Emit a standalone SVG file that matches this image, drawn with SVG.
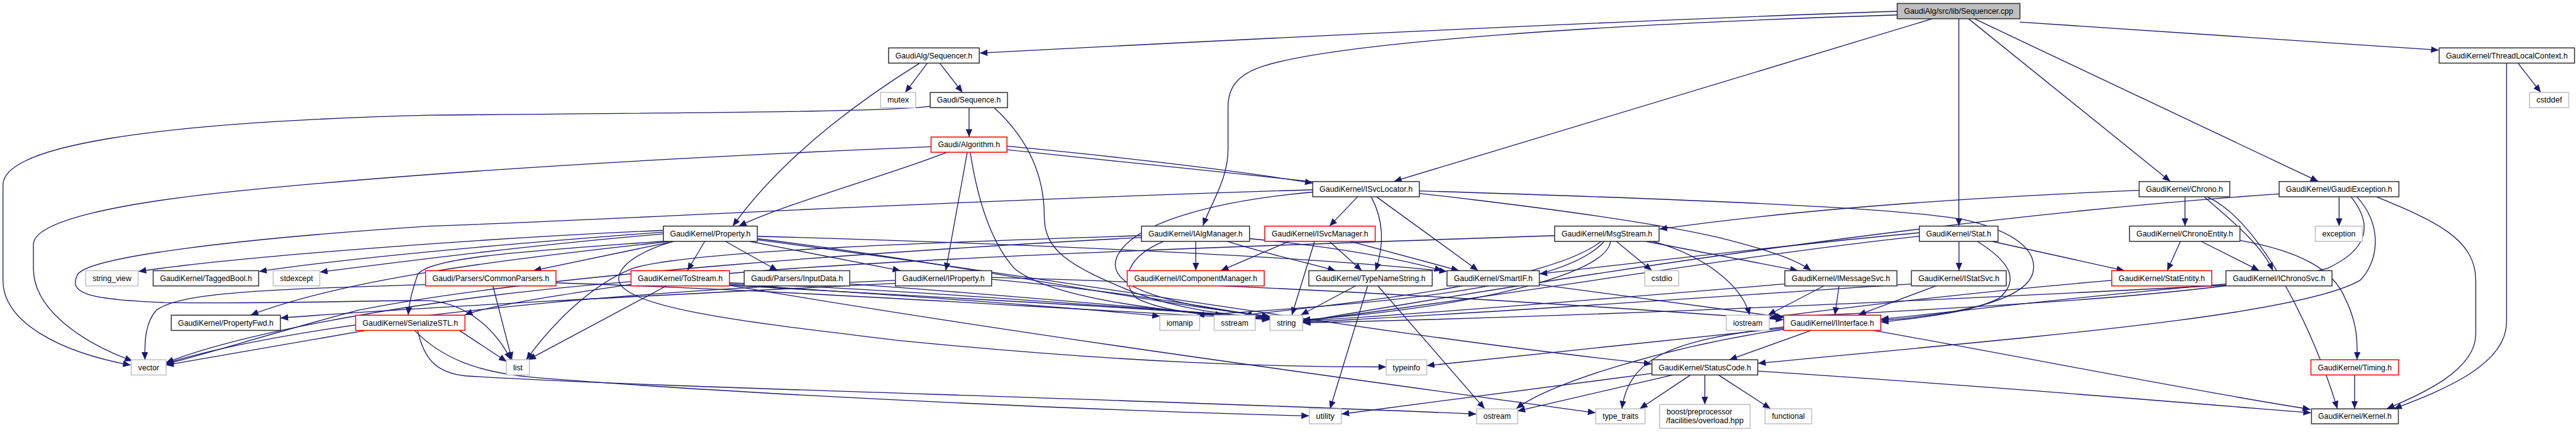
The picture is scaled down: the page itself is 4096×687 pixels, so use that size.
<svg xmlns="http://www.w3.org/2000/svg" width="4096" height="687" viewBox="0 0 4096 687">
<style>
.e path{fill:none;stroke:#191970;stroke-width:1.4;marker-end:url(#a)}
.n rect{fill:#fff;stroke:#333;stroke-width:1.6}
.g rect{fill:#fff;stroke:#bfbfbf;stroke-width:1.6}
.r rect{fill:#fff;stroke:#ff0000;stroke-width:1.6}
.root rect{fill:#bfbfbf;stroke:#333;stroke-width:1.6}
text{font-family:"Liberation Sans",Arial,Helvetica,sans-serif;font-size:14px;fill:#000;text-anchor:middle}
</style>
<defs>
<marker id="a" markerUnits="userSpaceOnUse" markerWidth="14" markerHeight="11" refX="13" refY="5.5" orient="auto"><path d="M0,0 L13,5.5 L0,11 z" fill="#191970"/></marker>
</defs>
<rect x="0" y="0" width="4096" height="687" fill="#fff"/>
<g transform="scale(0.948807)">
<g id="edges" class="e">
<path d="M3179,19 C2700,35 2000,70 1642,89"/>
<path d="M3179,25 C2700,40 2250,70 2120,110 C2070,125 2058,150 2058,180 L2058,250 C2058,300 2030,340 2016,378"/>
<path d="M3238,31.5 L2336,304"/>
<path d="M3282.7,31.5 L3282.7,379"/>
<path d="M3299,31.5 L3637,304"/>
<path d="M3309,31.5 L3885,304"/>
<path d="M3385,37 L4087,84"/>
<path d="M1554,106 L1517,155"/>
<path d="M1575,106 L1613,155"/>
<path d="M1541,106 C1470,150 1320,250 1228,379"/>
<path d="M1624,180.5 L1624,229.5"/>
<path d="M1559,178 C1500,187 1200,189 720,193 C250,205 5,245 5,310 L5,470 C5,540 100,590 219,612"/>
<path d="M1666,180.5 C1720,230 1750,290 1750,362 C1750,420 1790,445 1900,490 C1980,520 2060,528 2128,533"/>
<path d="M1587,255.3 C1500,290 1320,340 1238,379"/>
<path d="M1560,246 C1100,265 700,290 400,320 C200,340 56,370 56,410 L56,450 C56,520 140,575 222,605"/>
<path d="M1621,255.3 L1585,453.5"/>
<path d="M1626,255.3 C1636,320 1655,400 1700,450 C1760,500 1950,522 2128,536"/>
<path d="M1687.5,245 C1900,265 2100,290 2200,307"/>
<path d="M1687.5,251 C2100,295 2650,345 2880,398 C2960,418 3010,435 3035,453.5"/>
<path d="M4220,106 L4258,155"/>
<path d="M4200.6,106 L4200.6,540 C4200.6,610 4100,652 4012,685"/>
<path d="M3661.7,330 L3661.7,379"/>
<path d="M3694,330 C3740,370 3790,410 3809,453.5"/>
<path d="M3699,330 C3790,370 3880,560 3917,685"/>
<path d="M3585,319 C3200,335 2950,360 2781,384"/>
<path d="M3920,330 L3920,379"/>
<path d="M3983,330 C4080,370 4149,400 4149,470 L4149,560 C4149,620 4060,660 4000,685"/>
<path d="M3950,330 C3995,380 3985,440 3955,470 C3850,530 3400,565 2946,609"/>
<path d="M3940,330 C3980,380 3965,420 3900,450 C3700,500 3200,520 2966,533"/>
<path d="M3819.5,325 C3300,360 2700,450 2183,539"/>
<path d="M2275,330 L2228,379"/>
<path d="M2298,330 C2314,360 2324,400 2305,453.5"/>
<path d="M2307,330 L2477,453.5"/>
<path d="M2378.6,320 C2800,333 3200,348 3300,370 C3380,390 3410,420 3408,450 C3405,500 3300,525 3152,537"/>
<path d="M2200,318 C1500,340 1000,370 720,379 C400,400 150,430 130,460 C115,490 140,502 275,507 C500,510 650,502 720,504 C790,510 835,560 856,603"/>
<path d="M2200,322 C2050,335 1900,370 1872,430 C1850,480 1950,510 2128,531"/>
<path d="M1112,386 C800,400 400,430 232,455"/>
<path d="M1112,389 C900,405 600,430 434,455"/>
<path d="M1112,392 C900,410 700,435 536,456"/>
<path d="M1129,404.7 L894,453.5"/>
<path d="M1181,404.7 L1152,453.5"/>
<path d="M1216,404.7 L1303,453.5"/>
<path d="M1257,404.7 L1509,453.5"/>
<path d="M1120,404.7 C900,430 600,460 420,528"/>
<path d="M1115,404 C900,420 720,430 700,460 C690,490 686,505 684,528"/>
<path d="M1128,404.7 C1060,425 1035,450 1037,470 C1045,520 1300,545 1500,570 C1900,610 2150,615 2323,615"/>
<path d="M1269,396 C1700,408 2200,430 2425,455"/>
<path d="M1269,400 C1600,440 1900,505 2128,530"/>
<path d="M1269,402 C1800,470 2300,560 2768,610"/>
<path d="M2004,404.7 L2004,453.5"/>
<path d="M2057,404.7 C2120,425 2190,440 2238,453.5"/>
<path d="M2094,400 C2250,415 2350,435 2417,453.5"/>
<path d="M1913,395 C1600,405 1150,420 1060,450 C985,480 920,550 882,603"/>
<path d="M1950,404.7 C1890,430 1875,470 1905,500 C1960,528 2060,530 2128,534"/>
<path d="M1913,398 C1500,420 900,460 600,520 C450,560 330,598 278,610"/>
<path d="M2160,404.7 L2046,453.5"/>
<path d="M2228,404.7 L2282,453.5"/>
<path d="M2263,404.7 L2445,453.5"/>
<path d="M2203,404.7 L2165,528"/>
<path d="M2272,479 L2180,528"/>
<path d="M2292,479 L2229,685"/>
<path d="M2309,479 L2488,685"/>
<path d="M2580,477 C2750,500 2900,520 2990,532"/>
<path d="M2709,404.7 L2768,453.5"/>
<path d="M2683,404.7 C2600,470 2300,505 2085,528"/>
<path d="M2688,404.7 C2620,485 2300,510 2005,528"/>
<path d="M2699,404.7 C2690,470 2400,522 2183,536"/>
<path d="M2759,404.7 L3013,453.5"/>
<path d="M2770,404.7 C2860,430 2920,480 2932,528"/>
<path d="M2605,395 C2000,415 1300,440 1069,475 C900,500 810,515 779,528"/>
<path d="M3283,404.7 L3283,453.5"/>
<path d="M3339,404.7 L3560,453.5"/>
<path d="M3216.6,390 C3000,410 2750,440 2580,459"/>
<path d="M3216.6,396 C2900,430 2500,500 2183,538"/>
<path d="M3314,404.7 C3370,440 3385,470 3350,500 C3300,525 3220,532 3152,540"/>
<path d="M3057,479 L2963,528"/>
<path d="M3082,479 L3075,528"/>
<path d="M2991,476 C2700,500 2400,525 2183,538"/>
<path d="M3245,479 L3114,528"/>
<path d="M3203,476 C2900,495 2500,525 2183,540"/>
<path d="M3654,404.7 L3632,453.5"/>
<path d="M3689,404.7 L3786,453.5"/>
<path d="M3754,403 C3850,420 3910,450 3930,500 C3950,540 3951,570 3950,603"/>
<path d="M3539,470 C3300,490 3100,515 2966,532"/>
<path d="M3730,476 C3500,495 3300,520 3152,535"/>
<path d="M3730,478 C3300,500 2700,530 2183,541"/>
<path d="M3946,628.5 L3946,685"/>
<path d="M3034,554.3 L2898,603"/>
<path d="M3142,554.3 C3400,600 3700,660 3872,686"/>
<path d="M2989,552 C2800,580 2600,640 2541,685"/>
<path d="M2989,550 C2700,580 2450,605 2391,613"/>
<path d="M2989,548 C2800,570 2730,600 2718,685"/>
<path d="M2768,626 L2248,694"/>
<path d="M2803,628.5 L2543,689"/>
<path d="M2833,628.5 L2748,685"/>
<path d="M2857,628.5 L2857,678"/>
<path d="M2880,628.5 L2967,685"/>
<path d="M2945.7,622 C3300,645 3600,670 3873,692"/>
<path d="M826,479 L858,603"/>
<path d="M713,477 C450,485 300,490 262,520 C244,540 242,570 243,603"/>
<path d="M932,474 C1400,490 1800,520 2128,535"/>
<path d="M1117,479 L885,603"/>
<path d="M1057,472 C700,500 400,560 278,608"/>
<path d="M1222,476 C1500,495 1800,515 1944,530"/>
<path d="M1222,478 C1600,500 1900,515 2050,528"/>
<path d="M1222,474 C1600,490 1900,518 2128,532"/>
<path d="M1222,478 C1700,560 2300,640 2674,692"/>
<path d="M1424,476 C1700,495 1950,520 2128,533"/>
<path d="M612,554 L278,612"/>
<path d="M770,554 L849,606"/>
<path d="M700,554 C710,600 730,625 780,630 C1100,650 1800,665 2474,694"/>
<path d="M695,554 C740,600 800,625 900,633 C1300,665 1900,690 2194,697"/>
<path d="M1500,470 C1000,490 500,540 278,609"/>
<path d="M1662,468 C1900,490 2050,520 2128,532"/>
<path d="M1662,465 C2200,480 2700,515 2989,536"/>
<path d="M1500,475 C1100,495 700,515 470,533"/>
</g>
<g id="n_root" class="root"><rect x="3179.4" y="5.8" width="205.7" height="25.6"/><text x="3282.3" y="23.1" textLength="183" lengthAdjust="spacingAndGlyphs">GaudiAlg/src/lib/Sequencer.cpp</text></g>
<g id="n_seqh" class="n"><rect x="1489.1" y="80.3" width="152" height="25.5"/><text x="1565.1" y="97.6" textLength="129" lengthAdjust="spacingAndGlyphs">GaudiAlg/Sequencer.h</text></g>
<g id="n_mutex" class="g"><rect x="1475.8" y="155" width="58.8" height="25.5"/><text x="1505.2" y="172.3" textLength="36" lengthAdjust="spacingAndGlyphs">mutex</text></g>
<g id="n_sequence" class="n"><rect x="1558.9" y="155" width="129.5" height="25.5"/><text x="1623.6" y="172.3" textLength="107" lengthAdjust="spacingAndGlyphs">Gaudi/Sequence.h</text></g>
<g id="n_algorithm" class="r"><rect x="1560.3" y="229.7" width="127.2" height="25.5"/><text x="1623.9" y="247" textLength="104" lengthAdjust="spacingAndGlyphs">Gaudi/Algorithm.h</text></g>
<g id="n_tlc" class="n"><rect x="4087.7" y="80.3" width="226.8" height="25.5"/><text x="4201.1" y="97.6" textLength="204" lengthAdjust="spacingAndGlyphs">GaudiKernel/ThreadLocalContext.h</text></g>
<g id="n_cstddef" class="g"><rect x="4239.2" y="155" width="65.7" height="25.5"/><text x="4272" y="172.3" textLength="43" lengthAdjust="spacingAndGlyphs">cstddef</text></g>
<g id="n_chrono" class="n"><rect x="3584.9" y="304.3" width="151.9" height="25.5"/><text x="3660.8" y="321.6" textLength="129" lengthAdjust="spacingAndGlyphs">GaudiKernel/Chrono.h</text></g>
<g id="n_gexc" class="n"><rect x="3819.5" y="304.3" width="200.7" height="25.5"/><text x="3919.9" y="321.6" textLength="178" lengthAdjust="spacingAndGlyphs">GaudiKernel/GaudiException.h</text></g>
<g id="n_isvcloc" class="n"><rect x="2200" y="304.3" width="178.6" height="25.5"/><text x="2289.3" y="321.6" textLength="156" lengthAdjust="spacingAndGlyphs">GaudiKernel/ISvcLocator.h</text></g>
<g id="n_property" class="n"><rect x="1111.7" y="379" width="157.5" height="25.5"/><text x="1190.4" y="396.3" textLength="135" lengthAdjust="spacingAndGlyphs">GaudiKernel/Property.h</text></g>
<g id="n_ialgmgr" class="n"><rect x="1913" y="379" width="181" height="25.5"/><text x="2003.5" y="396.3" textLength="158" lengthAdjust="spacingAndGlyphs">GaudiKernel/IAlgManager.h</text></g>
<g id="n_isvcmgr" class="r"><rect x="2119.6" y="379" width="185" height="25.5"/><text x="2212.1" y="396.3" textLength="162" lengthAdjust="spacingAndGlyphs">GaudiKernel/ISvcManager.h</text></g>
<g id="n_msgstream" class="n"><rect x="2605.4" y="379" width="175" height="25.5"/><text x="2692.9" y="396.3" textLength="152" lengthAdjust="spacingAndGlyphs">GaudiKernel/MsgStream.h</text></g>
<g id="n_stat" class="n"><rect x="3216.6" y="379" width="131.8" height="25.5"/><text x="3282.5" y="396.3" textLength="109" lengthAdjust="spacingAndGlyphs">GaudiKernel/Stat.h</text></g>
<g id="n_chronoentity" class="n"><rect x="3568.8" y="379" width="185" height="25.5"/><text x="3661.3" y="396.3" textLength="162" lengthAdjust="spacingAndGlyphs">GaudiKernel/ChronoEntity.h</text></g>
<g id="n_exception" class="g"><rect x="3880.1" y="379" width="79" height="25.5"/><text x="3919.6" y="396.3" textLength="56" lengthAdjust="spacingAndGlyphs">exception</text></g>
<g id="n_string_view" class="g"><rect x="143.7" y="453.7" width="87.7" height="25.5"/><text x="187.6" y="471" textLength="65" lengthAdjust="spacingAndGlyphs">string_view</text></g>
<g id="n_taggedbool" class="n"><rect x="256.7" y="453.7" width="176.8" height="25.5"/><text x="345.1" y="471" textLength="154" lengthAdjust="spacingAndGlyphs">GaudiKernel/TaggedBool.h</text></g>
<g id="n_stdexcept" class="g"><rect x="457.8" y="453.7" width="78.1" height="25.5"/><text x="496.9" y="471" textLength="55" lengthAdjust="spacingAndGlyphs">stdexcept</text></g>
<g id="n_commonparsers" class="r"><rect x="713.2" y="453.7" width="218.5" height="25.5"/><text x="822.5" y="471" textLength="196" lengthAdjust="spacingAndGlyphs">Gaudi/Parsers/CommonParsers.h</text></g>
<g id="n_tostream" class="r"><rect x="1057.5" y="453.7" width="164.9" height="25.5"/><text x="1140" y="471" textLength="142" lengthAdjust="spacingAndGlyphs">GaudiKernel/ToStream.h</text></g>
<g id="n_inputdata" class="n"><rect x="1247.2" y="453.7" width="176.8" height="25.5"/><text x="1335.6" y="471" textLength="154" lengthAdjust="spacingAndGlyphs">Gaudi/Parsers/InputData.h</text></g>
<g id="n_iproperty" class="n"><rect x="1500.6" y="453.7" width="161.2" height="25.5"/><text x="1581.2" y="471" textLength="138" lengthAdjust="spacingAndGlyphs">GaudiKernel/IProperty.h</text></g>
<g id="n_icompmgr" class="r"><rect x="1889.1" y="453.7" width="229.6" height="25.5"/><text x="2003.9" y="471" textLength="206" lengthAdjust="spacingAndGlyphs">GaudiKernel/IComponentManager.h</text></g>
<g id="n_typenamestring" class="n"><rect x="2193.5" y="453.7" width="206.7" height="25.5"/><text x="2296.9" y="471" textLength="184" lengthAdjust="spacingAndGlyphs">GaudiKernel/TypeNameString.h</text></g>
<g id="n_smartif" class="n"><rect x="2425" y="453.7" width="154.7" height="25.5"/><text x="2502.4" y="471" textLength="132" lengthAdjust="spacingAndGlyphs">GaudiKernel/SmartIF.h</text></g>
<g id="n_cstdio" class="g"><rect x="2756.5" y="453.7" width="56.9" height="25.5"/><text x="2785" y="471" textLength="35" lengthAdjust="spacingAndGlyphs">cstdio</text></g>
<g id="n_imessagesvc" class="n"><rect x="2991.1" y="453.7" width="187.9" height="25.5"/><text x="3085" y="471" textLength="165" lengthAdjust="spacingAndGlyphs">GaudiKernel/IMessageSvc.h</text></g>
<g id="n_istatsvc" class="n"><rect x="3203.3" y="453.7" width="158.9" height="25.5"/><text x="3282.8" y="471" textLength="136" lengthAdjust="spacingAndGlyphs">GaudiKernel/IStatSvc.h</text></g>
<g id="n_statentity" class="r"><rect x="3539" y="453.7" width="167.5" height="25.5"/><text x="3622.8" y="471" textLength="145" lengthAdjust="spacingAndGlyphs">GaudiKernel/StatEntity.h</text></g>
<g id="n_ichronosvc" class="n"><rect x="3730.4" y="453.7" width="177.7" height="25.5"/><text x="3819.3" y="471" textLength="155" lengthAdjust="spacingAndGlyphs">GaudiKernel/IChronoSvc.h</text></g>
<g id="n_propertyfwd" class="n"><rect x="287" y="528.3" width="182.8" height="25.5"/><text x="378.4" y="545.6" textLength="160" lengthAdjust="spacingAndGlyphs">GaudiKernel/PropertyFwd.h</text></g>
<g id="n_serializestl" class="r"><rect x="596" y="528.3" width="183.2" height="25.5"/><text x="687.6" y="545.6" textLength="160" lengthAdjust="spacingAndGlyphs">GaudiKernel/SerializeSTL.h</text></g>
<g id="n_iomanip" class="g"><rect x="1943.7" y="528.3" width="66.6" height="25.5"/><text x="1977" y="545.6" textLength="44" lengthAdjust="spacingAndGlyphs">iomanip</text></g>
<g id="n_sstream" class="g"><rect x="2034.7" y="528.3" width="68.8" height="25.5"/><text x="2069.1" y="545.6" textLength="46" lengthAdjust="spacingAndGlyphs">sstream</text></g>
<g id="n_string" class="g"><rect x="2128.3" y="528.3" width="54.7" height="25.5"/><text x="2155.7" y="545.6" textLength="32" lengthAdjust="spacingAndGlyphs">string</text></g>
<g id="n_iostream" class="g"><rect x="2892.9" y="528.3" width="72.1" height="25.5"/><text x="2929" y="545.6" textLength="49" lengthAdjust="spacingAndGlyphs">iostream</text></g>
<g id="n_iinterface" class="r"><rect x="2989.3" y="528.3" width="162.5" height="25.5"/><text x="3070.6" y="545.6" textLength="140" lengthAdjust="spacingAndGlyphs">GaudiKernel/IInterface.h</text></g>
<g id="n_vector" class="g"><rect x="220" y="603" width="58.3" height="25.5"/><text x="249.2" y="620.3" textLength="35" lengthAdjust="spacingAndGlyphs">vector</text></g>
<g id="n_list" class="g"><rect x="848.6" y="603" width="38.6" height="25.5"/><text x="867.9" y="620.3" textLength="16" lengthAdjust="spacingAndGlyphs">list</text></g>
<g id="n_typeinfo" class="g"><rect x="2323" y="603" width="68" height="25.5"/><text x="2357" y="620.3" textLength="46" lengthAdjust="spacingAndGlyphs">typeinfo</text></g>
<g id="n_statuscode" class="n"><rect x="2768.4" y="603" width="177.3" height="25.5"/><text x="2857.1" y="620.3" textLength="155" lengthAdjust="spacingAndGlyphs">GaudiKernel/StatusCode.h</text></g>
<g id="n_timing" class="r"><rect x="3872.8" y="603" width="146.9" height="25.5"/><text x="3946.3" y="620.3" textLength="124" lengthAdjust="spacingAndGlyphs">GaudiKernel/Timing.h</text></g>
<g id="n_utility" class="g"><rect x="2194.4" y="685.3" width="53.3" height="25"/><text x="2221" y="702.3" textLength="31" lengthAdjust="spacingAndGlyphs">utility</text></g>
<g id="n_ostream" class="g"><rect x="2474.6" y="685.3" width="68.8" height="25"/><text x="2509" y="702.3" textLength="46" lengthAdjust="spacingAndGlyphs">ostream</text></g>
<g id="n_type_traits" class="g"><rect x="2674.3" y="685.3" width="82.7" height="25"/><text x="2715.7" y="702.3" textLength="60" lengthAdjust="spacingAndGlyphs">type_traits</text></g>
<g id="n_boost" class="g"><rect x="2781.3" y="678" width="151.5" height="40"/><text x="2793" y="694.5" textLength="110" lengthAdjust="spacingAndGlyphs" style="text-anchor:start">boost/preprocessor</text><text x="2792" y="709.5" textLength="130" lengthAdjust="spacingAndGlyphs" style="text-anchor:start">/facilities/overload.hpp</text></g>
<g id="n_functional" class="g"><rect x="2958" y="685.3" width="78.1" height="25"/><text x="2997" y="702.3" textLength="55" lengthAdjust="spacingAndGlyphs">functional</text></g>
<g id="n_kernel" class="n"><rect x="3873.7" y="685.3" width="145.6" height="25"/><text x="3946.5" y="702.3" textLength="123" lengthAdjust="spacingAndGlyphs">GaudiKernel/Kernel.h</text></g>
</g>
</svg>
